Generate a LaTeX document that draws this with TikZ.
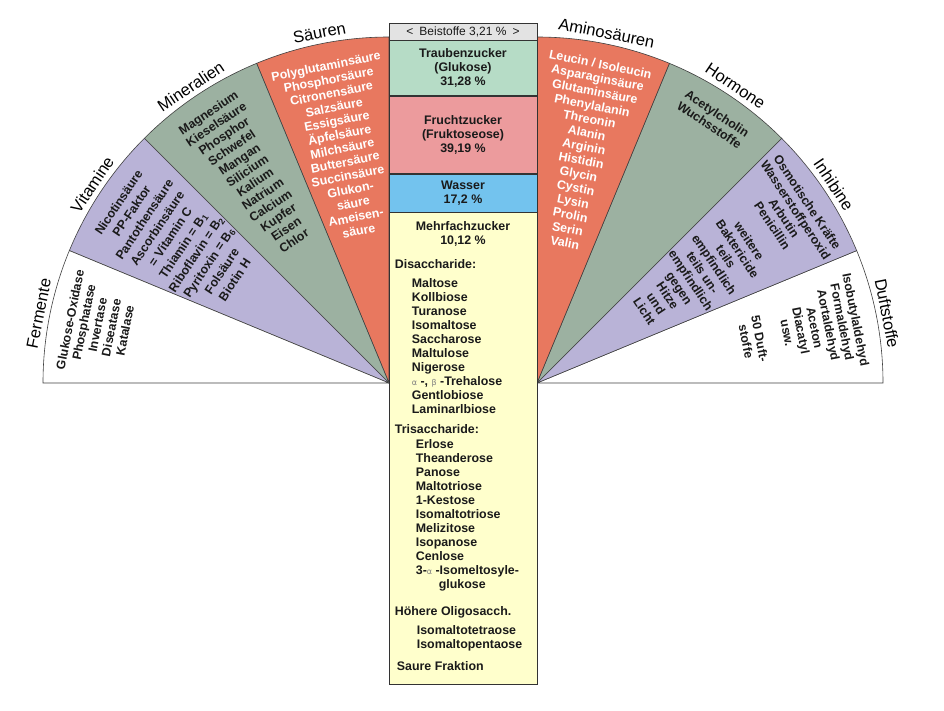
\documentclass[tikz,border=0pt]{standalone}
\usepackage{fontspec}
\setmainfont{Liberation Sans}
\newfontfamily\greekfont{DejaVu Sans}
\usetikzlibrary{positioning}

\definecolor{lavender}{HTML}{B9B3D7}
\definecolor{sage}{HTML}{9CB1A1}
\definecolor{salmon}{HTML}{E8785F}
\definecolor{mint}{HTML}{B6DCC6}
\definecolor{rose}{HTML}{EC9B9D}
\definecolor{sky}{HTML}{73C3EE}
\definecolor{cream}{HTML}{FFFFCC}
\definecolor{silver}{HTML}{E3E3E3}
\definecolor{ink}{HTML}{1A1A1A}

\newcommand{\grk}[1]{{\greekfont\mdseries\color{gray}\footnotesize #1}}

\begin{document}
\begin{tikzpicture}[x=1pt,y=1pt,
        wedge/.style={draw=black!75,line width=0.6pt},
        wedge text/.style={anchor=north,align=center,inner sep=0pt,text=ink,font=\fontsize{12.4}{14}\selectfont\bfseries},
        sector label/.style={inner sep=0pt,font=\fontsize{16.5}{19}\selectfont},
        column box/.style={draw=black!80,line width=0.7pt,minimum width=148pt,inner sep=0pt,align=center,text=ink,font=\fontsize{12.4}{14}\selectfont\bfseries}]

    \useasboundingbox (0,0) rectangle (944,710);
    \coordinate (L) at (389,327);
    \coordinate (R) at (537,327);

    % fan, left and right half
    \foreach \a/\c in {90/salmon,112.5/sage,135/lavender,157.5/white}
        \filldraw[wedge,fill=\c] (L) -- ++(\a:346) arc[start angle=\a,end angle=\a+22.5,radius=346] -- cycle;
    \foreach \a/\c in {0/white,22.5/lavender,45/sage,67.5/salmon}
        \filldraw[wedge,fill=\c] (R) -- ++(\a:346) arc[start angle=\a,end angle=\a+22.5,radius=346] -- cycle;

    % sector labels
    \path (L) ++(101.25:357) node[sector label,rotate=11.25] (saeuren) {Säuren};
    \path (L) ++(123.75:357) node[sector label,rotate=33.75] (mineralien) {Mineralien};
    \path (L) ++(146.25:357) node[sector label,rotate=56.25] (vitamine) {Vitamine};
    \path (L) ++(168.75:357) node[sector label,rotate=78.75] (fermente) {Fermente};
    \path (R) ++(78.75:357) node[sector label,rotate=-11.25] (amino) {Aminosäuren};
    \path (R) ++(56.25:357) node[sector label,rotate=-33.75] (hormone) {Hormone};
    \path (R) ++(33.75:357) node[sector label,rotate=-56.25] (inhibine) {Inhibine};
    \path (R) ++(11.25:357) node[sector label,rotate=-78.75] (duft) {Duftstoffe};

    % sector contents
    \path (L) ++(101.25:328) node[wedge text,text=white,rotate=11.25] (saeurenlist)
        {Polyglutaminsäure\\Phosphorsäure\\Citronensäure\\Salzsäure\\Essigsäure\\Äpfelsäure\\Milchsäure\\Buttersäure\\Succinsäure\\Glukon-\\säure\\Ameisen-\\säure};
    \path (L) ++(123.75:330) node[wedge text,rotate=33.75] (minlist)
        {Magnesium\\Kieselsäure\\Phosphor\\Schwefel\\Mangan\\Silicium\\Kalium\\Natrium\\Calcium\\Kupfer\\Eisen\\Chlor};
    \path (L) ++(146.25:330) node[wedge text,rotate=56.25,font=\fontsize{12.4}{15.5}\selectfont\bfseries] (vitlist)
        {Nicotinsäure\\PP-Faktor\\Pantothensäure\\Ascorbinsäure\\= Vitamin C\\Thiamin = B\textsubscript{1}\\Riboflavin = B\textsubscript{2}\\Pyritoxin = B\textsubscript{6}\\Folsäure\\Biotin H};
    \path (L) ++(168.75:330) node[wedge text,rotate=78.75] (fermlist)
        {Glukose-Oxidase\\Phosphatase\\Invertase\\Diseatase\\Katalase};
    \path (R) ++(78.75:330) node[wedge text,text=white,rotate=-11.25] (aminolist)
        {Leucin / Isoleucin\\Asparaginsäure\\Glutaminsäure\\Phenylalanin\\Threonin\\Alanin\\Arginin\\Histidin\\Glycin\\Cystin\\Lysin\\Prolin\\Serin\\Valin};
    \path (R) ++(56.25:329) node[wedge text,rotate=-33.75] (hormlist)
        {Acetylcholin\\Wuchsstoffe};
    \path (R) ++(33.75:330) node[wedge text,rotate=-56.25] (inhlist)
        {Osmotische Kräfte\\Wasserstoffperoxid\\Arbutin\\Penicillin\\[14pt]weitere\\Baktericide\\teils\\empfindlich\\teils un-\\empfindlich\\gegen\\Hitze\\und\\Licht};
    \path (R) ++(11.25:330) node[wedge text,rotate=-78.75] (duftlist)
        {Isobutylaldehyd\\Formaldehyd\\Aortaldehyd\\Aceton\\Diacatyl\\usw.\\[14pt]50 Duft-\\stoffe};

    % middle column
    \node[column box,fill=silver,minimum height=17pt,font=\fontsize{12}{14}\selectfont] (beistoffe) at (463,678.5)
        {<\enspace Beistoffe 3,21 \%\enspace>};
    \node[column box,fill=mint,minimum height=55pt,below=0pt of beistoffe] (glukose)
        {Traubenzucker\\(Glukose)\\31,28 \%};
    \node[column box,fill=rose,minimum height=77pt,below=0pt of glukose] (fruktose)
        {Fruchtzucker\\(Fruktoseose)\\39,19 \%};
    \node[column box,fill=sky,minimum height=38pt,below=0pt of fruktose] (wasser)
        {Wasser\\17,2 \%};
    \node[column box,fill=cream,minimum height=472pt,below=0pt of wasser] (mehrfach) {};
    \node[wedge text] (mehrhead) at ([yshift=-9pt]mehrfach.north) {Mehrfachzucker\\10,12 \%};
    \node[wedge text,anchor=north west,align=left] (mehrlist) at ([shift={(6pt,-47pt)}]mehrfach.north west)
        {Disaccharide:\\[5pt]
         \hspace*{17pt}Maltose\\\hspace*{17pt}Kollbiose\\\hspace*{17pt}Turanose\\\hspace*{17pt}Isomaltose\\
         \hspace*{17pt}Saccharose\\\hspace*{17pt}Maltulose\\\hspace*{17pt}Nigerose\\
         \hspace*{17pt}\grk{α} -, \grk{β} -Trehalose\\
         \hspace*{17pt}Gentlobiose\\\hspace*{17pt}Laminarlbiose\\[6pt]
         Trisaccharide:\\[1pt]
         \hspace*{21pt}Erlose\\\hspace*{21pt}Theanderose\\\hspace*{21pt}Panose\\\hspace*{21pt}Maltotriose\\
         \hspace*{21pt}1-Kestose\\\hspace*{21pt}Isomaltotriose\\\hspace*{21pt}Melizitose\\\hspace*{21pt}Isopanose\\
         \hspace*{21pt}Cenlose\\\hspace*{21pt}3-\grk{α} -Isomeltosyle-\\\hspace*{44pt}glukose\\[13pt]
         Höhere Oligosacch.\\[5pt]
         \hspace*{22pt}Isomaltotetraose\\\hspace*{22pt}Isomaltopentaose\\[8pt]
         \hspace*{2pt}Saure Fraktion};

\end{tikzpicture}
\end{document}
